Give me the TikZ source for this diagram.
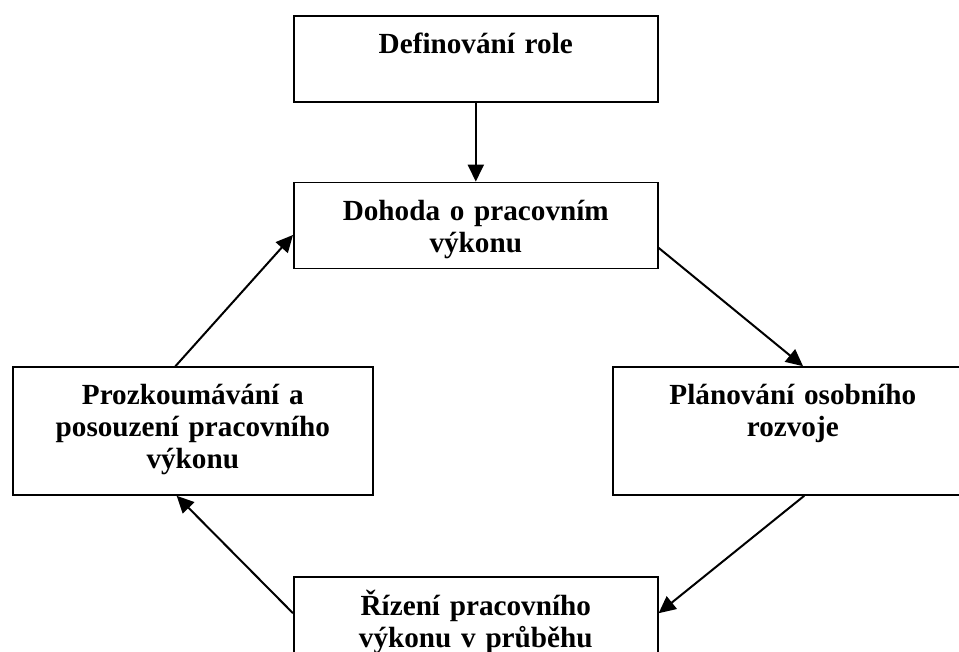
\documentclass[tikz,border=0pt]{standalone}
\usepackage{fontspec}
\setmainfont{Liberation Serif}
\usetikzlibrary{positioning,arrows.meta}

\begin{document}
\begin{tikzpicture}[->, >={Triangle[length=12.75pt,width=12pt]}, line width=1.5pt, block/.style = {draw, line width=1.2pt, inner sep=0pt, align=center, text width=273pt, text height=28.5pt, text depth=36pt, font=\bfseries\fontsize{21.9pt}{24pt}\selectfont}, wide/.style = {block, text width=270pt, text height=27.75pt, text depth=68.25pt}]

\useasboundingbox (0,0) rectangle (719.25pt,-489pt);

\node[block, anchor=north west] (role) at (219.75pt,-11.25pt) {Definování role};
\node[block] (dohoda) [below=59.25pt of role] {Dohoda o pracovním\\ výkonu};
\node[wide] (prozk) [below=72.75pt of dohoda, xshift=-212.25pt] {Prozkoumávání a\\ posouzení pracovního\\ výkonu};
\node[wide] (plan) [below=72.75pt of dohoda, xshift=237.75pt] {Plánování osobního\\ rozvoje};
\node[block, text depth=45pt] (rizeni) [below=230.25pt of dohoda] {Řízení pracovního\\ výkonu v průběhu};

\path
    (role) edge (dohoda)
    (dohoda.-7) edge (plan.81)
    (plan.-80) edge (rizeni.4)
    (rizeni.176) edge (prozk.256)
    (prozk.105) edge (dohoda.183);
\end{tikzpicture}
\end{document}
